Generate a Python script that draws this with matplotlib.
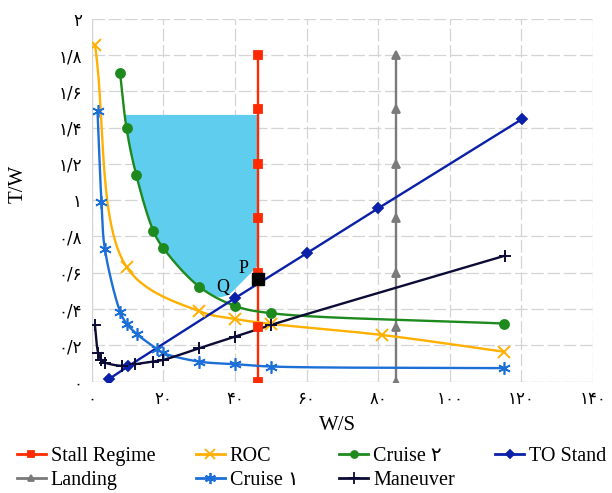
import numpy as np
import matplotlib
matplotlib.use("Agg")
import matplotlib.pyplot as plt
from matplotlib.lines import Line2D

plt.rcParams['font.family'] = ['Liberation Serif', 'DejaVu Sans']

# ---------------- data ----------------
stall_x = [46.5] * 7
stall_y = [0, 0.3, 0.6, 0.9, 1.2, 1.5, 1.8]

landing_x = [85.1] * 7
landing_y = [0, 0.3, 0.6, 0.9, 1.2, 1.5, 1.8]

roc_x = [0.9, 9.7, 30, 40, 50, 81, 115]
roc_y = [1.855, 0.632, 0.388, 0.345, 0.318, 0.257, 0.165]

cruise2_x = [7.9, 9.7, 12.4, 17.2, 20, 30, 40, 50, 115]
cruise2_y = [1.70, 1.396, 1.14, 0.83, 0.735, 0.523, 0.417, 0.377, 0.32]

to_x = [4.9, 10.2, 40, 60, 80, 120.2]
to_y = [0.015, 0.085, 0.46, 0.707, 0.955, 1.447]

cruise1_x = [1.6, 2.7, 3.65, 7.9, 9.7, 12.7, 18.2, 20, 30, 40, 50, 115]
cruise1_y = [1.49, 0.99, 0.73, 0.386, 0.32, 0.26, 0.18, 0.157, 0.11, 0.096, 0.083, 0.074]

maneuver_x = [0.87, 1.8, 2.7, 3.7, 8.3, 12, 17, 20, 30, 40, 50, 115.4]
maneuver_y = [0.312, 0.156, 0.12, 0.105, 0.087, 0.096, 0.11, 0.12, 0.184, 0.248, 0.312, 0.694]

region_top = 1.47
region_break_x = 34
region_x = [36, 38, 39.5, 46.5, 46.5]
region_y = [0.465, 0.475, 0.50, 0.64, 1.47]

p_point = (46.5, 0.565)

xticks = [0, 20, 40, 60, 80, 100, 120, 140]
xtick_labels = ['۰', '۲۰', '۴۰', '۶۰', '۸۰', '۱۰۰', '۱۲۰', '۱۴۰']
yticks = [0, 0.2, 0.4, 0.6, 0.8, 1.0, 1.2, 1.4, 1.6, 1.8, 2.0]
ytick_labels = ['۰', '۰/۲', '۰/۴', '۰/۶', '۰/۸', '۱', '۱/۲', '۱/۴', '۱/۶', '۱/۸', '۲']

# ---------------- smoothing helper ----------------
SX, SY = 500 / 140.0, 363 / 2.0


def smooth(x, y, n=30, alpha=0.5):
    P = np.column_stack([np.asarray(x, float) * SX, np.asarray(y, float) * SY])
    if len(P) < 3:
        return P[:, 0] / SX, P[:, 1] / SY
    ext = np.vstack([2 * P[0] - P[1], P, 2 * P[-1] - P[-2]])
    out = []
    for i in range(len(P) - 1):
        p0, p1, p2, p3 = ext[i], ext[i + 1], ext[i + 2], ext[i + 3]

        def tj(ti, pi, pj):
            return ti + max(np.linalg.norm(pj - pi), 1e-6) ** alpha
        t0 = 0.0
        t1 = tj(t0, p0, p1)
        t2 = tj(t1, p1, p2)
        t3 = tj(t2, p2, p3)
        t = np.linspace(t1, t2, n)[:, None]
        A1 = (t1 - t) / (t1 - t0) * p0 + (t - t0) / (t1 - t0) * p1
        A2 = (t2 - t) / (t2 - t1) * p1 + (t - t1) / (t2 - t1) * p2
        A3 = (t3 - t) / (t3 - t2) * p2 + (t - t2) / (t3 - t2) * p3
        B1 = (t2 - t) / (t2 - t0) * A1 + (t - t0) / (t2 - t0) * A2
        B2 = (t3 - t) / (t3 - t1) * A2 + (t - t1) / (t3 - t1) * A3
        C = (t2 - t) / (t2 - t1) * B1 + (t - t1) / (t2 - t1) * B2
        out.append(C if i == 0 else C[1:])
    C = np.vstack(out)
    return C[:, 0] / SX, C[:, 1] / SY


# ---------------- figure ----------------
fig = plt.figure(figsize=(6.12, 4.93), dpi=100)
ax = fig.add_axes([0.150, 0.226, 0.819, 0.736])
ax.set_xlim(0, 140)
ax.set_ylim(0, 2)

ax.set_xticks(xticks)
ax.set_xticklabels(xtick_labels)
ax.set_yticks(yticks)
ax.set_yticklabels(ytick_labels)
ax.tick_params(length=0, labelsize=12)
ax.tick_params(axis='y', pad=7)
ax.tick_params(axis='x', pad=6)
for lab in ax.get_xticklabels() + ax.get_yticklabels():
    lab.set_family(['DejaVu Sans'])

ax.grid(True, color='#D4D4D4', linewidth=0.9, linestyle=(0, (10, 3)))
ax.set_axisbelow(True)
for s in ax.spines.values():
    s.set_visible(False)
ax.axhline(0, color='#D4D4D4', lw=0.9, zorder=0)
ax.axvline(0, color='#D4D4D4', lw=0.9, zorder=0)

ax.set_xlabel('W/S', fontsize=15)
ax.set_ylabel('T/W', fontsize=15)
ax.xaxis.set_label_coords(0.49, -0.095)
ax.yaxis.set_label_coords(-0.128, 0.545)

# feasible region
cx, cy = smooth(cruise2_x, cruise2_y, n=60)
mask = (cy <= region_top) & (cx <= region_break_x)
fx = np.concatenate([[cx[mask][0]], cx[mask], region_x])
fy = np.concatenate([[region_top], cy[mask], region_y])
ax.fill(fx, fy, color='#5ECDEE', lw=0, zorder=1)

C_STALL = '#FF2A00'
C_ROC = '#FFB000'
C_CR2 = '#1E8A1E'
C_TO = '#0A20A8'
C_LAND = '#7A7A7A'
C_CR1 = '#1C6FD6'
C_MAN = '#0B0B35'
ASTER = (6, 2, 0)


def series(x, y, color, marker, ms, smooth_it=True, mew=1.3, z=3):
    if smooth_it:
        sx, sy = smooth(x, y)
    else:
        sx, sy = x, y
    ax.plot(sx, sy, color=color, lw=1.7, zorder=z)
    ax.plot(x, y, linestyle='none', marker=marker, ms=ms, color=color,
            mec=color, mew=mew, zorder=z + 0.5)


series(stall_x, stall_y, C_STALL, 's', 5.5, smooth_it=False)
series(landing_x, landing_y, C_LAND, '^', 6, smooth_it=False)
series(roc_x, roc_y, C_ROC, 'x', 8, mew=1.4)
series(cruise2_x, cruise2_y, C_CR2, 'o', 6.5)
series(to_x, to_y, C_TO, 'D', 5.5, smooth_it=False)
series(cruise1_x, cruise1_y, C_CR1, ASTER, 9, mew=1.2)
series(maneuver_x, maneuver_y, C_MAN, '+', 9, mew=1.4)

ax.plot([p_point[0]], [p_point[1]], marker='s', ms=9, color='black', zorder=6)
ax.text(42.5, 0.626, 'P', fontsize=13, ha='center', va='center', zorder=7)
ax.text(36.6, 0.52, 'Q', fontsize=13, ha='center', va='center', zorder=7)

# legend
def h(color, marker, ms, mew=1.3):
    return Line2D([], [], color=color, lw=2, marker=marker, ms=ms, mec=color, mew=mew)

handles = [h(C_STALL, 's', 5), h(C_LAND, '^', 5),
           h(C_ROC, 'x', 7), h(C_CR1, ASTER, 8),
           h(C_CR2, 'o', 5), h(C_MAN, '+', 8),
           h(C_TO, 'D', 4)]
labels = ['Stall Regime', 'Landing', 'ROC', 'Cruise ۱', 'Cruise ۲', 'Maneuver', 'TO Stand']
leg = fig.legend(handles, labels, loc='upper left', bbox_to_anchor=(0.027, 0.094),
                 ncol=4, frameon=False, fontsize=14.5, handlelength=1.45,
                 handletextpad=0.25, columnspacing=2.0, labelspacing=0.25,
                 borderaxespad=0, borderpad=0)

fig.savefig('out.png', dpi=100)
